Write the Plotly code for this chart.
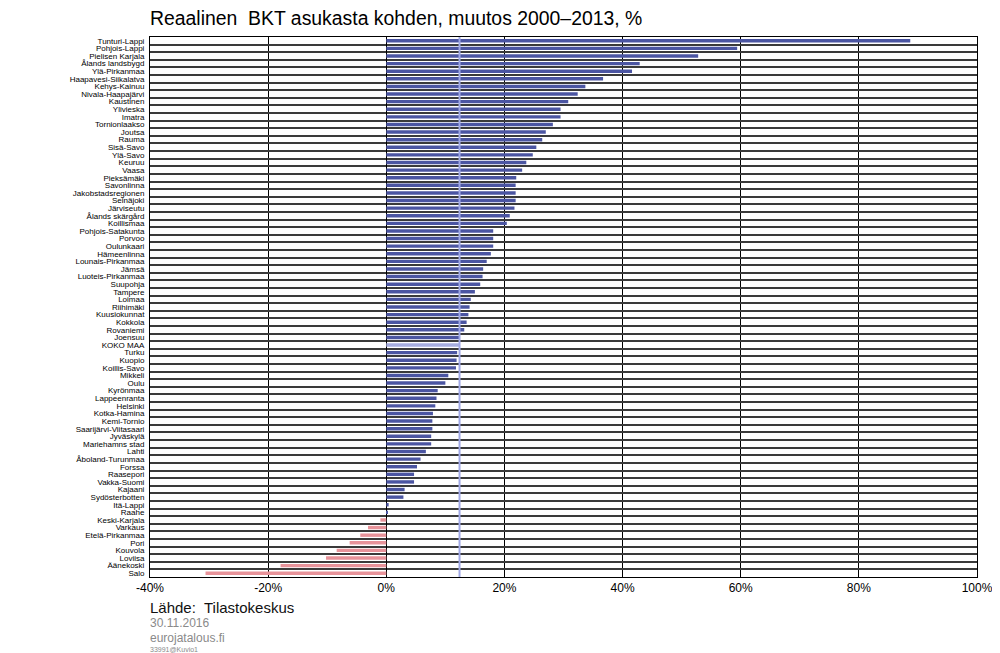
import plotly.graph_objects as go

regions = [
    "Tunturi-Lappi", "Pohjois-Lappi", "Pielisen Karjala", "Ålands landsbygd", "Ylä-Pirkanmaa",
    "Haapavesi-Siikalatva", "Kehys-Kainuu", "Nivala-Haapajärvi", "Kaustinen", "Ylivieska",
    "Imatra", "Tornionlaakso", "Joutsa", "Rauma", "Sisä-Savo",
    "Ylä-Savo", "Keuruu", "Vaasa", "Pieksämäki", "Savonlinna",
    "Jakobstadsregionen", "Seinäjoki", "Järviseutu", "Ålands skärgård", "Koillismaa",
    "Pohjois-Satakunta", "Porvoo", "Oulunkaari", "Hämeenlinna", "Lounais-Pirkanmaa",
    "Jämsä", "Luoteis-Pirkanmaa", "Suupohja", "Tampere", "Loimaa",
    "Riihimäki", "Kuusiokunnat", "Kokkola", "Rovaniemi", "Joensuu",
    "KOKO MAA", "Turku", "Kuopio", "Koillis-Savo", "Mikkeli",
    "Oulu", "Kyrönmaa", "Lappeenranta", "Helsinki", "Kotka-Hamina",
    "Kemi-Tornio", "Saarijärvi-Viitasaari", "Jyväskylä", "Mariehamns stad", "Lahti",
    "Åboland-Turunmaa", "Forssa", "Raasepori", "Vakka-Suomi", "Kajaani",
    "Sydösterbotten", "Itä-Lappi", "Raahe", "Keski-Karjala", "Varkaus",
    "Etelä-Pirkanmaa", "Pori", "Kouvola", "Loviisa", "Äänekoski",
    "Salo",
]

change_pct = [
    88.7, 59.4, 52.8, 42.9, 41.6,
    36.7, 33.7, 32.4, 30.8, 29.5,
    29.5, 28.2, 27.0, 26.4, 25.4,
    24.8, 23.7, 23.0, 22.0, 21.9,
    21.9, 21.9, 21.7, 20.9, 20.4,
    18.1, 18.1, 18.1, 17.7, 17.0,
    16.4, 16.3, 15.9, 15.0, 14.3,
    14.1, 13.9, 13.6, 13.2, 12.4,
    12.4, 12.0, 11.9, 11.8, 10.5,
    10.0, 8.7, 8.5, 8.3, 7.9,
    7.8, 7.8, 7.6, 7.6, 6.7,
    5.8, 5.2, 4.7, 4.7, 3.1,
    2.9, 0.4, 0.2, -1.0, -3.1,
    -4.4, -6.2, -8.4, -10.2, -17.9,
    -30.6,
]

x_ticks = [-40, -20, 0, 20, 40, 60, 80, 100]
x_tick_labels = ["-40%", "-20%", "0%", "20%", "40%", "60%", "80%", "100%"]

total_label = "KOKO MAA"
total_value = change_pct[regions.index(total_label)]

BLUE = "#4b55a2"
LIGHT = "#a6addf"
PINK = "#e8939a"

colors = []
for r, v in zip(regions, change_pct):
    if r == total_label:
        colors.append(LIGHT)
    elif v < 0:
        colors.append(PINK)
    else:
        colors.append(BLUE)

fig = go.Figure()
fig.add_trace(go.Bar(
    x=change_pct, y=regions, orientation="h",
    marker=dict(color=colors, line=dict(width=0)),
    width=0.45, showlegend=False, hoverinfo="x+y",
))

# whole-country reference line
fig.add_shape(type="line", xref="x", yref="paper",
              x0=total_value, x1=total_value, y0=0, y1=1,
              line=dict(color="#a0a8e6", width=2), layer="above")

# page has an 8px body margin, so the figure is drawn 8px smaller
W, H = 992, 645
fig.update_layout(
    width=W, height=H,
    margin=dict(l=142, r=23, t=29, b=76, autoexpand=False),
    paper_bgcolor="white", plot_bgcolor="white",
    font=dict(family="Liberation Sans, Arial, sans-serif", color="black"),
    title=dict(text="Reaalinen  BKT asukasta kohden, muutos 2000–2013, %",
               x=0, xanchor="left", xref="paper",
               y=1 - 10 / H, yref="container", yanchor="middle",
               font=dict(size=19.4, color="black")),
)

fig.update_xaxes(
    range=[-40, 100], tickvals=x_ticks, ticktext=x_tick_labels,
    showgrid=True, gridcolor="black", gridwidth=1,
    zeroline=True, zerolinecolor="black", zerolinewidth=1,
    showline=True, linecolor="black", linewidth=1, mirror=True,
    ticks="", tickfont=dict(size=12, color="black"), automargin=False,
)
fig.update_yaxes(
    type="category", autorange="reversed", tickson="boundaries",
    tickmode="array", tickvals=regions, ticktext=regions,
    showgrid=True, gridcolor="#3a3a3a", gridwidth=1.5,
    showline=True, linecolor="black", linewidth=1, mirror=True,
    ticks="", ticklabelstandoff=3, automargin=False,
    tickfont=dict(size=8, family="Liberation Sans Narrow, Liberation Sans, Arial", color="black"),
)

fig.add_annotation(text="Lähde:  Tilastokeskus", xref="paper", yref="paper",
                   x=0, y=-0.0556, xanchor="left", yanchor="middle", showarrow=False,
                   font=dict(size=15, color="#111111"), xshift=-2)
fig.add_annotation(text="30.11.2016", xref="paper", yref="paper",
                   x=0, y=-0.085, xanchor="left", yanchor="middle", showarrow=False,
                   font=dict(size=12, color="#8a8a8a"), xshift=-2)
fig.add_annotation(text="eurojatalous.fi", xref="paper", yref="paper",
                   x=0, y=-0.113, xanchor="left", yanchor="middle", showarrow=False,
                   font=dict(size=12, color="#8a8a8a"), xshift=-2)
fig.add_annotation(text="33991@Kuvio1", xref="paper", yref="paper",
                   x=0, y=-0.134, xanchor="left", yanchor="middle", showarrow=False,
                   font=dict(size=7, color="#8a8a8a"), xshift=-2)

fig.write_html("out.html")
